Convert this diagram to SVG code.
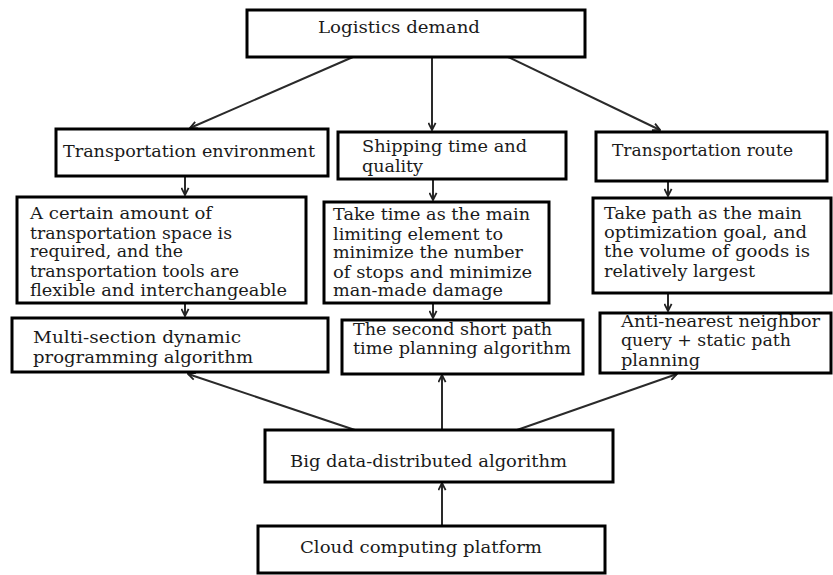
<svg xmlns="http://www.w3.org/2000/svg" width="833" height="575" viewBox="0 0 833 575">
<style>
.box{fill:#fff;stroke:#000;stroke-width:3}
.t{font-family:"DejaVu Serif","Liberation Serif",serif;font-size:16px;fill:#1a1a1a}
.c{fill:none;stroke:#2a2a2a;stroke-width:2}
</style>
<defs>
<marker id="ah" viewBox="0 0 10 10" refX="9" refY="5" markerWidth="9" markerHeight="9" markerUnits="userSpaceOnUse" orient="auto">
<path d="M1,1 L9,5 L1,9" fill="none" stroke="#222" stroke-width="2"/>
</marker>
</defs>
<rect width="833" height="575" fill="#fff"/>
<g id="connectors" class="c" marker-end="url(#ah)">
<line x1="353" y1="57" x2="190" y2="128"/>
<line x1="432" y1="57" x2="432" y2="130"/>
<line x1="508" y1="57" x2="660" y2="130"/>
<line x1="185" y1="176" x2="185" y2="195"/>
<line x1="433" y1="179" x2="433" y2="200"/>
<line x1="668" y1="181" x2="668" y2="196"/>
<line x1="185" y1="303" x2="185" y2="316"/>
<line x1="433" y1="303" x2="433" y2="318"/>
<line x1="668" y1="293" x2="668" y2="311"/>
<line x1="355" y1="430" x2="188" y2="374"/>
<line x1="442" y1="430" x2="442" y2="375"/>
<line x1="517" y1="430" x2="677" y2="374"/>
<line x1="442" y1="526" x2="442" y2="483"/>
</g>
<g id="logistics">
<rect class="box" x="247" y="10" width="338" height="47"/>
<text class="t" x="318" y="33" textLength="162" lengthAdjust="spacingAndGlyphs">Logistics demand</text>
</g>
<g id="env">
<rect class="box" x="56" y="129" width="272" height="47"/>
<text class="t" x="63" y="157" textLength="252" lengthAdjust="spacingAndGlyphs">Transportation environment</text>
</g>
<g id="shipping">
<rect class="box" x="338" y="132" width="228" height="47"/>
<text class="t" x="362" y="152" textLength="165" lengthAdjust="spacingAndGlyphs">Shipping time and</text>
<text class="t" x="362" y="172" textLength="61" lengthAdjust="spacingAndGlyphs">quality</text>
</g>
<g id="route">
<rect class="box" x="596" y="132" width="231" height="49"/>
<text class="t" x="612" y="156" textLength="181" lengthAdjust="spacingAndGlyphs">Transportation route</text>
</g>
<g id="space">
<rect class="box" x="17" y="197" width="289" height="106"/>
<text class="t" x="30" y="219" textLength="182" lengthAdjust="spacingAndGlyphs">A certain amount of</text>
<text class="t" x="30" y="239" textLength="202" lengthAdjust="spacingAndGlyphs">transportation space is</text>
<text class="t" x="30" y="257" textLength="153" lengthAdjust="spacingAndGlyphs">required, and the</text>
<text class="t" x="30" y="277" textLength="209" lengthAdjust="spacingAndGlyphs">transportation tools are</text>
<text class="t" x="30" y="296" textLength="257" lengthAdjust="spacingAndGlyphs">flexible and interchangeable</text>
</g>
<g id="taketime">
<rect class="box" x="324" y="202" width="225" height="101"/>
<text class="t" x="333" y="220" textLength="197" lengthAdjust="spacingAndGlyphs">Take time as the main</text>
<text class="t" x="333" y="240" textLength="170" lengthAdjust="spacingAndGlyphs">limiting element to</text>
<text class="t" x="333" y="258" textLength="190" lengthAdjust="spacingAndGlyphs">minimize the number</text>
<text class="t" x="333" y="278" textLength="199" lengthAdjust="spacingAndGlyphs">of stops and minimize</text>
<text class="t" x="333" y="296" textLength="170" lengthAdjust="spacingAndGlyphs">man-made damage</text>
</g>
<g id="takepath">
<rect class="box" x="593" y="198" width="238" height="95"/>
<text class="t" x="604" y="219" textLength="198" lengthAdjust="spacingAndGlyphs">Take path as the main</text>
<text class="t" x="604" y="238" textLength="203" lengthAdjust="spacingAndGlyphs">optimization goal, and</text>
<text class="t" x="604" y="257" textLength="206" lengthAdjust="spacingAndGlyphs">the volume of goods is</text>
<text class="t" x="604" y="277" textLength="151" lengthAdjust="spacingAndGlyphs">relatively largest</text>
</g>
<g id="multi">
<rect class="box" x="12" y="318" width="316" height="54"/>
<text class="t" x="33" y="343" textLength="208" lengthAdjust="spacingAndGlyphs">Multi-section dynamic</text>
<text class="t" x="33" y="363" textLength="220" lengthAdjust="spacingAndGlyphs">programming algorithm</text>
</g>
<g id="second">
<rect class="box" x="342" y="320" width="241" height="54"/>
<text class="t" x="353" y="335" textLength="199" lengthAdjust="spacingAndGlyphs">The second short path</text>
<text class="t" x="353" y="354" textLength="218" lengthAdjust="spacingAndGlyphs">time planning algorithm</text>
</g>
<g id="anti">
<rect class="box" x="600" y="313" width="231" height="60"/>
<text class="t" x="621" y="327" textLength="199" lengthAdjust="spacingAndGlyphs">Anti-nearest neighbor</text>
<text class="t" x="621" y="346" textLength="170" lengthAdjust="spacingAndGlyphs">query + static path</text>
<text class="t" x="621" y="366" textLength="79" lengthAdjust="spacingAndGlyphs">planning</text>
</g>
<g id="bigdata">
<rect class="box" x="265" y="430" width="348" height="52"/>
<text class="t" x="290" y="467" textLength="277" lengthAdjust="spacingAndGlyphs">Big data-distributed algorithm</text>
</g>
<g id="cloud">
<rect class="box" x="258" y="526" width="347" height="47"/>
<text class="t" x="300" y="553" textLength="242" lengthAdjust="spacingAndGlyphs">Cloud computing platform</text>
</g>
</svg>
